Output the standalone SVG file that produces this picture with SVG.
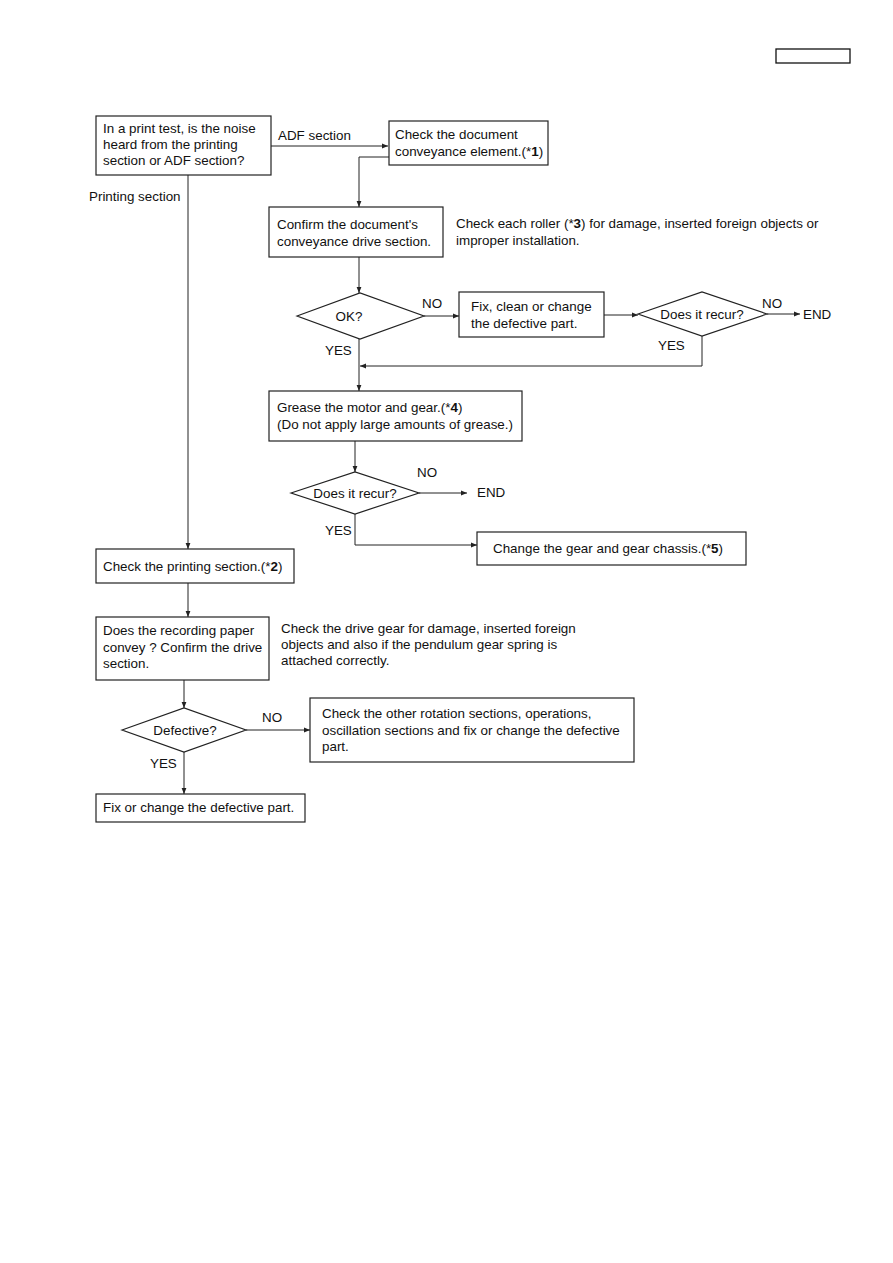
<svg xmlns="http://www.w3.org/2000/svg" width="893" height="1263" viewBox="0 0 893 1263">
<defs>
<style>
.box{fill:#fff;stroke:#222;stroke-width:1.2}
.ln{fill:none;stroke:#222;stroke-width:1}
.arr{marker-end:url(#ah)}
text{font-family:"Liberation Sans",Arial,Helvetica,sans-serif;font-size:13.4px;fill:#111}
.c{text-anchor:middle}
.b{font-weight:bold}
</style>
<marker id="ah" viewBox="0 0 10 10" refX="10" refY="5" markerWidth="7" markerHeight="6" orient="auto" markerUnits="userSpaceOnUse">
<path d="M0,1 L10,5 L0,9 z" fill="#222"/>
</marker>
</defs>
<rect width="893" height="1263" fill="#fff"/>
<g id="header"><rect x="776" y="49" width="74" height="14" fill="none" stroke="#111" stroke-width="1.3"/></g>

<g id="connectors">
<path class="ln arr" d="M271,146 H388"/>
<path class="ln arr" d="M389,157 H359 V207"/>
<path class="ln arr" d="M188,175 V549"/>
<path class="ln arr" d="M359,257 V293"/>
<path class="ln arr" d="M424,316 H459"/>
<path class="ln arr" d="M604,315 H638"/>
<path class="ln arr" d="M767,314 H800"/>
<path class="ln arr" d="M702,336 V366 H360"/>
<path class="ln arr" d="M359,339 V391"/>
<path class="ln arr" d="M355,441 V472"/>
<path class="ln arr" d="M419,493 H467"/>
<path class="ln arr" d="M355,514 V545 H477"/>
<path class="ln arr" d="M188,583 V617"/>
<path class="ln arr" d="M184,680 V708"/>
<path class="ln arr" d="M246,730 H310"/>
<path class="ln arr" d="M184,752 V794"/>
<text x="278" y="140">ADF section</text>
<text x="89" y="201">Printing section</text>
<text x="422" y="308">NO</text>
<text x="325" y="355">YES</text>
<text x="762" y="308">NO</text>
<text x="803" y="319">END</text>
<text x="658" y="350">YES</text>
<text x="417" y="477">NO</text>
<text x="477" y="497">END</text>
<text x="325" y="535">YES</text>
<text x="262" y="722">NO</text>
<text x="150" y="768">YES</text>
</g>

<g id="n_start">
<rect class="box" x="96" y="116" width="175" height="59"/>
<text x="103" y="133">In a print test, is the noise</text>
<text x="103" y="149">heard from the printing</text>
<text x="103" y="165">section or ADF section?</text>
</g>
<g id="n_doc">
<rect class="box" x="389" y="121" width="159" height="44"/>
<text x="395" y="139">Check the document</text>
<text x="395" y="156">conveyance element.(*<tspan class="b">1</tspan>)</text>
</g>
<g id="n_confirm">
<rect class="box" x="269" y="207" width="174" height="50"/>
<text x="277" y="229">Confirm the document's</text>
<text x="277" y="246">conveyance drive section.</text>
</g>
<g id="note_roller">
<text x="456" y="228">Check each roller (*<tspan class="b">3</tspan>) for damage, inserted foreign objects or</text>
<text x="456" y="245">improper installation.</text>
</g>
<g id="n_ok">
<polygon class="box" points="297,316 360,293 424,316 360,339"/>
<text class="c" x="349" y="321">OK?</text>
</g>
<g id="n_fix1">
<rect class="box" x="459" y="292" width="145" height="45"/>
<text x="471" y="311">Fix, clean or change</text>
<text x="471" y="328">the defective part.</text>
</g>
<g id="n_recur1">
<polygon class="box" points="638,314 702,292 767,314 702,336"/>
<text class="c" x="702" y="319">Does it recur?</text>
</g>
<g id="n_grease">
<rect class="box" x="269" y="391" width="253" height="50"/>
<text x="277" y="412">Grease the motor and gear.(*<tspan class="b">4</tspan>)</text>
<text x="277" y="429">(Do not apply large amounts of grease.)</text>
</g>
<g id="n_recur2">
<polygon class="box" points="291,493 355,472 419,493 355,514"/>
<text class="c" x="355" y="498">Does it recur?</text>
</g>
<g id="n_change">
<rect class="box" x="477" y="532" width="269" height="33"/>
<text x="493" y="553">Change the gear and gear chassis.(*<tspan class="b">5</tspan>)</text>
</g>
<g id="n_print">
<rect class="box" x="96" y="549" width="198" height="34"/>
<text x="103" y="571">Check the printing section.(*<tspan class="b">2</tspan>)</text>
</g>
<g id="n_record">
<rect class="box" x="96" y="617" width="173" height="63"/>
<text x="103" y="635">Does the recording paper</text>
<text x="103" y="652">convey ? Confirm the drive</text>
<text x="103" y="668">section.</text>
</g>
<g id="note_gear">
<text x="281" y="633">Check the drive gear for damage, inserted foreign</text>
<text x="281" y="649">objects and also if the pendulum gear spring is</text>
<text x="281" y="665">attached correctly.</text>
</g>
<g id="n_defective">
<polygon class="box" points="122,730 184,708 246,730 184,752"/>
<text class="c" x="185" y="735">Defective?</text>
</g>
<g id="n_other">
<rect class="box" x="310" y="698" width="324" height="64"/>
<text x="322" y="718">Check the other rotation sections, operations,</text>
<text x="322" y="735">oscillation sections and fix or change the defective</text>
<text x="322" y="751">part.</text>
</g>
<g id="n_fix2">
<rect class="box" x="96" y="794" width="209" height="28"/>
<text x="103" y="812">Fix or change the defective part.</text>
</g>
</svg>
